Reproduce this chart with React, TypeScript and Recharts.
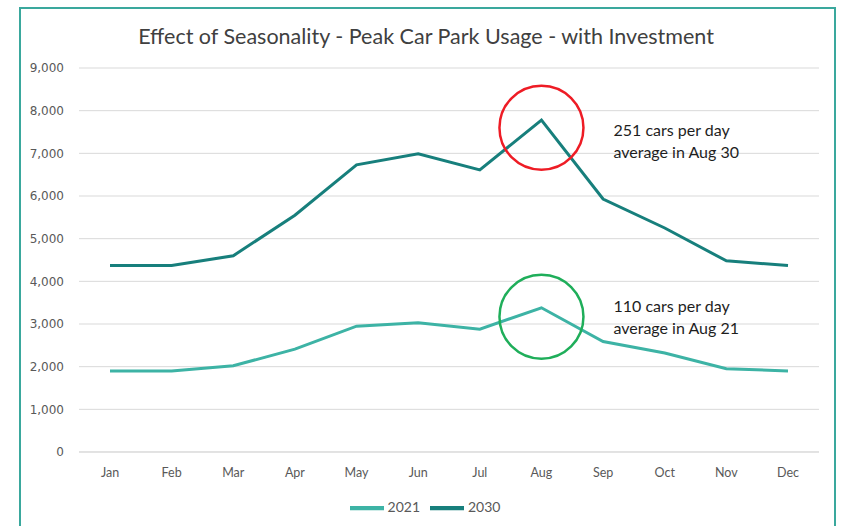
import React from 'react';
import { LineChart, Line, XAxis, YAxis, CartesianGrid, Legend, ReferenceDot } from 'recharts';

const months = ['Jan', 'Feb', 'Mar', 'Apr', 'May', 'Jun', 'Jul', 'Aug', 'Sep', 'Oct', 'Nov', 'Dec'];
const usage2021 = [1900, 1900, 2020, 2410, 2950, 3030, 2880, 3380, 2590, 2320, 1950, 1900];
const usage2030 = [4370, 4370, 4600, 5550, 6730, 6990, 6610, 7780, 5930, 5250, 4480, 4370];
const yTicks = [0, 1000, 2000, 3000, 4000, 5000, 6000, 7000, 8000, 9000];

const highlightMonth = 'Aug';
const highlight2030 = 7600;
const highlight2021 = 3170;
const note2030 = ['251 cars per day', 'average in Aug 30'];
const note2021 = ['110 cars per day', 'average in Aug 21'];

const data = months.map((m, i) => ({ month: m, y2021: usage2021[i], y2030: usage2030[i] }));

const FONT = 'Lato, "Liberation Sans", sans-serif';

// circle plus the two-line note to its right
const noteShape = (colour: string, lines: string[], dy: number) => (props: any) => {
  const { cx, cy } = props;
  return (
    <g>
      <circle cx={cx} cy={cy} r={42} fill="none" stroke={colour} strokeWidth={2.5} />
      {lines.map((t, i) => (
        <text key={i} x={cx + 72} y={cy + dy + i * 22} fontSize={16} fill="#1e1e1e" fontFamily={FONT}>
          {t}
        </text>
      ))}
    </g>
  );
};

const App = () => {
  return (
    <div style={{ position: 'absolute', left: 0, top: 0, width: 852, height: 526, background: '#fff', overflow: 'hidden' }}>
      <div
        style={{
          position: 'absolute',
          left: 19,
          top: 7,
          width: 817,
          height: 540,
          border: '2px solid #3aa89d',
          boxSizing: 'border-box',
        }}
      />
      <div
        style={{
          position: 'absolute',
          left: 0,
          top: 23,
          width: 852,
          textAlign: 'center',
          fontFamily: FONT,
          fontSize: 21.5,
          color: '#404040',
        }}
      >
        Effect of Seasonality - Peak Car Park Usage - with Investment
      </div>
      <div style={{ position: 'absolute', left: 0, top: 0 }}>
        <LineChart width={852} height={526} data={data} margin={{ top: 68, right: 33, left: 19, bottom: 11 }}>
          <CartesianGrid vertical={false} stroke="#d9d9d9" />
          <XAxis
            dataKey="month"
            axisLine={{ stroke: '#d9d9d9' }}
            tickLine={false}
            height={39}
            tickMargin={10}
            padding={{ left: 31, right: 31 }}
            tick={{ fontSize: 12.5, fill: '#595959', fontFamily: FONT }}
          />
          <YAxis
            width={60}
            domain={[0, 9000]}
            ticks={yTicks}
            axisLine={false}
            tickLine={false}
            tickMargin={9}
            tickFormatter={(v: number) => v.toLocaleString('en-US')}
            tick={{ fontSize: 12, fill: '#595959', fontFamily: '"DejaVu Sans", sans-serif' }}
          />
          <Legend
            verticalAlign="bottom"
            height={24}
            iconType="plainline"
            iconSize={34}
            wrapperStyle={{ fontFamily: FONT, fontSize: 14, left: 30 }}
            formatter={(v: string) => <span style={{ color: '#595959' }}>{v}</span>}
          />
          <Line
            type="linear"
            dataKey="y2021"
            name="2021"
            stroke="#3db3a5"
            strokeWidth={3}
            dot={false}
            isAnimationActive={false}
          />
          <Line
            type="linear"
            dataKey="y2030"
            name="2030"
            stroke="#177f7c"
            strokeWidth={3}
            dot={false}
            isAnimationActive={false}
          />
          <ReferenceDot
            x={highlightMonth}
            y={highlight2030}
            r={42}
            shape={noteShape('#ee1c25', note2030, 8)}
          />
          <ReferenceDot
            x={highlightMonth}
            y={highlight2021}
            r={42}
            shape={noteShape('#1fae5a', note2021, -5)}
          />
        </LineChart>
      </div>
    </div>
  );
};

export default App;
